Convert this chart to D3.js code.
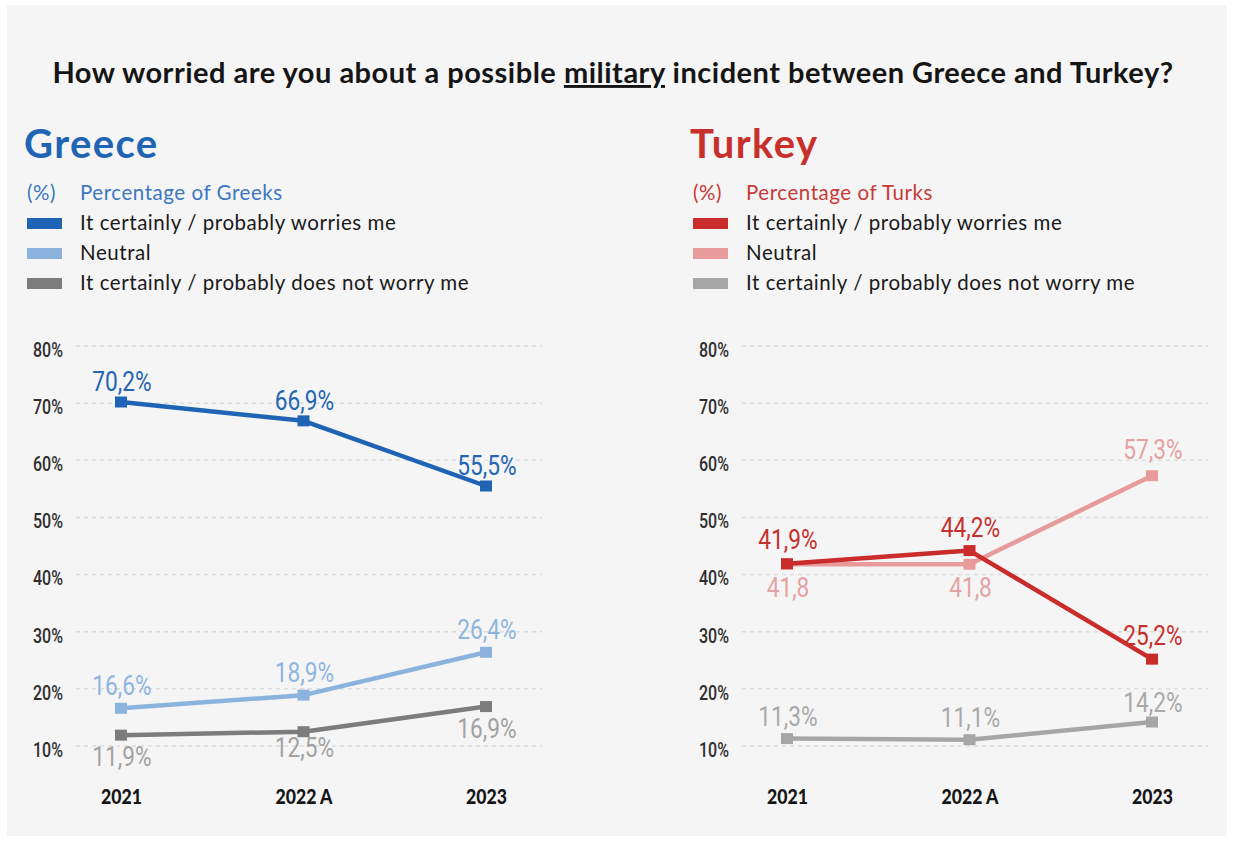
<!DOCTYPE html>
<html>
<head>
<meta charset="utf-8">
<script src="https://cdn.jsdelivr.net/npm/d3@7/dist/d3.min.js"></script>
<style>
  html, body { margin: 0; padding: 0; background: #ffffff; }
  svg { display: block; }
  .humanist { font-family: "Lato", "Open Sans", sans-serif; }
  .numeric { font-family: "Roboto", "DejaVu Sans", sans-serif; }
</style>
</head>
<body>
<svg id="chart" width="1233" height="842"></svg>
<script>
// ---- data ----
const years = ["2021", "2022 A", "2023"];
const yTicks = [10, 20, 30, 40, 50, 60, 70, 80];

const greeceWorried = [70.2, 66.9, 55.5];
const greeceNeutral = [16.6, 18.9, 26.4];
const greeceNotWorried = [11.9, 12.5, 16.9];

const turkeyWorried = [41.9, 44.2, 25.2];
const turkeyNeutral = [41.8, 41.8, 57.3];
const turkeyNotWorried = [11.3, 11.1, 14.2];

const legendLabels = [
  "It certainly / probably worries me",
  "Neutral",
  "It certainly / probably does not worry me"
];

// ---- layout ----
const W = 1233, H = 842;
const svg = d3.select("#chart");

// squeeze text horizontally to mimic a condensed face
function condense(sel, factor) {
  sel.each(function () {
    const len = this.getComputedTextLength();
    d3.select(this).attr("textLength", len * factor).attr("lengthAdjust", "spacingAndGlyphs");
  });
}

svg.append("rect").attr("x", 7).attr("y", 5).attr("width", W - 13).attr("height", H - 11)
  .attr("fill", "#f5f5f5");

// title with underlined word
const title = svg.append("text").attr("class", "humanist")
  .attr("x", 613).attr("y", 83).attr("text-anchor", "middle")
  .attr("font-size", 29).attr("font-weight", 700).attr("letter-spacing", 0.5)
  .attr("fill", "#151515");
title.append("tspan").text("How worried are you about a possible ");
title.append("tspan").attr("text-decoration", "underline").text("military");
title.append("tspan").text(" incident between Greece and Turkey?");

const y = d3.scaleLinear().domain([10, 80]).range([746, 346]);

const fmt = v => String(v.toFixed(1)).replace(".", ",");

function drawPanel(cfg) {
  const g = svg.append("g").attr("transform", `translate(${cfg.dx},0)`);

  // heading
  g.append("text").attr("class", "humanist").attr("x", 24).attr("y", 158)
    .attr("font-size", 40).attr("font-weight", 700).attr("letter-spacing", 1.4)
    .attr("fill", cfg.main).text(cfg.name);

  // legend
  g.append("text").attr("class", "humanist").attr("x", 27).attr("y", 200)
    .attr("font-size", 20.5).attr("letter-spacing", 0.5)
    .attr("fill", cfg.subtitleColor).text("(%)");
  g.append("text").attr("class", "humanist").attr("x", 80).attr("y", 200)
    .attr("font-size", 20.5).attr("letter-spacing", 0.55)
    .attr("fill", cfg.subtitleColor).text(cfg.subtitle);

  const legend = g.selectAll("g.leg").data(cfg.legend).join("g").attr("class", "leg")
    .attr("transform", (d, i) => `translate(0,${223 + i * 30})`);
  legend.append("rect").attr("x", 27).attr("y", -5).attr("width", 35).attr("height", 11)
    .attr("fill", d => d.line);
  legend.append("text").attr("class", "humanist").attr("x", 80).attr("y", 7)
    .attr("font-size", 20.5).attr("letter-spacing", 0.55)
    .attr("fill", "#1a1a1a").text((d, i) => legendLabels[i]);

  const x = d3.scalePoint().domain(years).range([121, 486]);

  // gridlines
  g.append("g").selectAll("line").data(yTicks).join("line")
    .attr("x1", 76).attr("x2", 542)
    .attr("y1", d => y(d)).attr("y2", d => y(d))
    .attr("stroke", "#dddddd").attr("stroke-width", 1.5).attr("stroke-dasharray", "4,4");

  // y axis tick labels
  const yAxis = d3.axisLeft(y).tickValues(yTicks).tickSize(0).tickFormat(d => d + "%");
  const ya = g.append("g").attr("transform", "translate(0,4)").call(yAxis);
  ya.select(".domain").remove();
  ya.selectAll("text").attr("class", "numeric").attr("font-size", 20).attr("font-weight", 500)
    .attr("fill", "#2e2e2e").attr("x", 33).attr("text-anchor", "start");
  condense(ya.selectAll("text"), 0.8);

  // x axis labels
  const xAxis = d3.axisBottom(x).tickSize(0);
  const xa = g.append("g").attr("transform", "translate(0,786)").call(xAxis);
  xa.select(".domain").remove();
  xa.selectAll("text").attr("class", "humanist").attr("font-size", 21).attr("font-weight", 900)
    .attr("fill", "#151515").attr("dy", "0.72em");
  condense(xa.selectAll("text"), 0.84);

  const line = d3.line().x((d, i) => x(years[i])).y(d => y(d));

  cfg.draw.forEach(s => {
    g.append("path").datum(s.values).attr("d", line)
      .attr("fill", "none").attr("stroke", s.line).attr("stroke-width", 4.5)
      .attr("stroke-linejoin", "round");
    g.append("g").selectAll("rect").data(s.values).join("rect")
      .attr("x", (d, i) => x(years[i]) - 6).attr("y", d => y(d) - 5.5)
      .attr("width", 12).attr("height", 11).attr("fill", s.line);
    const labels = g.append("g").selectAll("text").data(s.values).join("text")
      .attr("class", "numeric")
      .attr("x", (d, i) => x(years[i]) + 1)
      .attr("y", (d, i) => y(d) + s.offset[i])
      .attr("text-anchor", "middle").attr("font-size", 27)
      .attr("fill", s.labelColor)
      .text((d, i) => fmt(d) + (s.percent[i] ? "%" : ""));
    condense(labels, 0.84);
  });
}

// series styling: line colour, label colour, label offset from the point, "%" suffix
const grW = { values: greeceWorried, line: "#1f63b5", labelColor: "#2466b3", offset: [-11, -11, -11], percent: [1, 1, 1] };
const grN = { values: greeceNeutral, line: "#8cb3de", labelColor: "#8fb5df", offset: [-13, -13, -13], percent: [1, 1, 1] };
const grX = { values: greeceNotWorried, line: "#7c7c7c", labelColor: "#a2a2a2", offset: [31, 25, 31], percent: [1, 1, 1] };

drawPanel({
  dx: 0, name: "Greece", main: "#2064b4", subtitle: "Percentage of Greeks", subtitleColor: "#3b77c2",
  legend: [grW, grN, grX],
  draw: [grX, grN, grW]
});

const trW = { values: turkeyWorried, line: "#c92c2b", labelColor: "#c5302e", offset: [-15, -14, -14], percent: [1, 1, 1] };
const trN = { values: turkeyNeutral, line: "#e79c9b", labelColor: "#e4a3a2", offset: [33, 33, -17], percent: [0, 0, 1] };
const trX = { values: turkeyNotWorried, line: "#a6a6a6", labelColor: "#a9a9a9", offset: [-13, -13, -10], percent: [1, 1, 1] };

drawPanel({
  dx: 666, name: "Turkey", main: "#c8302d", subtitle: "Percentage of Turks", subtitleColor: "#c83a37",
  legend: [trW, trN, trX],
  draw: [trX, trN, trW]
});
</script>
</body>
</html>
